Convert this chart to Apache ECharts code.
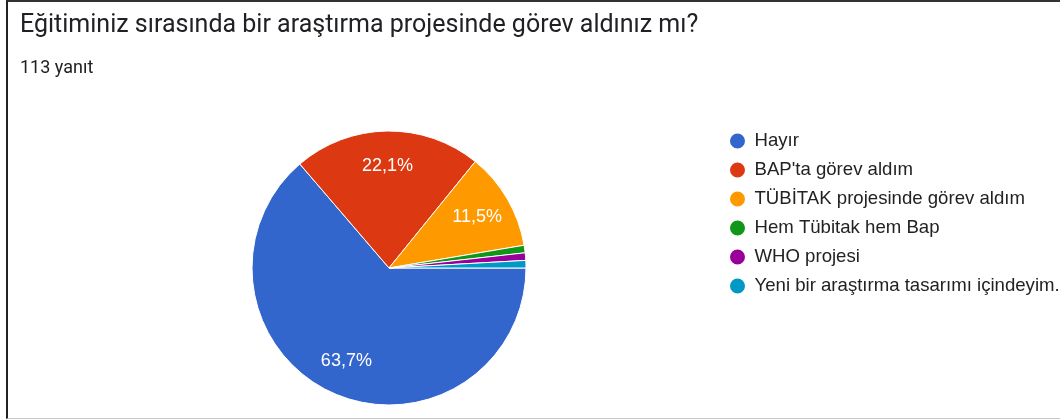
<!DOCTYPE html>
<html>
<head>
<meta charset="utf-8">
<script src="https://cdn.jsdelivr.net/npm/echarts@6/dist/echarts.min.js"></script>
<style>
  html, body { margin: 0; padding: 0; background: #fff; }
  #main { position: absolute; left: 0; top: 0; width: 1060px; height: 419px; }
  #frame { position: absolute; left: 6px; top: 0; width: 1054px; height: 416px;
           border-left: 2px solid #222; border-top: 2px solid #333; border-bottom: 1px solid #c6c6c6;
           box-sizing: content-box; pointer-events: none; }
</style>
</head>
<body>
<div id="main"></div>
<div id="frame"></div>
<script>
// anket sonuçları (113 yanıt)
var questionTitle = 'Eğitiminiz sırasında bir araştırma projesinde görev aldınız mı?';
var answerCount = '113 yanıt';
var categories = ['Hayır', "BAP'ta görev aldım", 'TÜBİTAK projesinde görev aldım', 'Hem Tübitak hem Bap', 'WHO projesi', 'Yeni bir araştırma tasarımı içindeyim.'];
var counts = [72, 25, 13, 1, 1, 1];
var colors = ['#3366cc', '#dc3912', '#ff9900', '#109618', '#990099', '#0099c6'];

var pieData = [];
for (var i = 0; i < categories.length; i++) {
  pieData.push({ name: categories[i], value: counts[i], itemStyle: { color: colors[i] } });
}

var chart = echarts.init(document.getElementById('main'));
chart.setOption({
  animation: false,
  title: {
    text: questionTitle,
    subtext: answerCount,
    left: 15,
    top: 8,
    itemGap: 21,
    textStyle: { fontFamily: 'Roboto', fontSize: 25, fontWeight: 'normal', color: '#202124' },
    subtextStyle: { fontFamily: 'Roboto', fontSize: 18, color: '#202124' }
  },
  legend: {
    orient: 'vertical',
    left: 723,
    top: 126.5,
    icon: 'circle',
    itemWidth: 24,
    itemHeight: 17,
    itemGap: 10,
    textStyle: { fontFamily: 'Arial, Liberation Sans', fontSize: 18.6, lineHeight: 18, color: '#222' },
    data: categories
  },
  series: [
    {
      type: 'pie',
      center: [389, 268],
      radius: [0, 137],
      startAngle: 0,
      clockwise: true,
      avoidLabelOverlap: false,
      itemStyle: { borderColor: '#fff', borderWidth: 1 },
      label: { show: false },
      labelLine: { show: false },
      emphasis: { scale: false },
      data: pieData
    },
    {
      // yüzde etiketleri için şeffaf katman
      type: 'pie',
      silent: true,
      center: [389, 268],
      radius: [0, 198],
      startAngle: 0,
      clockwise: true,
      avoidLabelOverlap: false,
      itemStyle: { color: 'rgba(0,0,0,0)' },
      labelLine: { show: false },
      label: {
        show: true,
        position: 'inside',
        fontFamily: 'Arial, Liberation Sans',
        fontSize: 18,
        color: '#fff',
        formatter: function (p) {
          if (p.percent < 5) return '';
          return p.percent.toFixed(1).replace('.', ',') + '%';
        }
      },
      data: categories.map(function (c, i) { return { name: c, value: counts[i] }; })
    }
  ]
});
</script>
</body>
</html>
